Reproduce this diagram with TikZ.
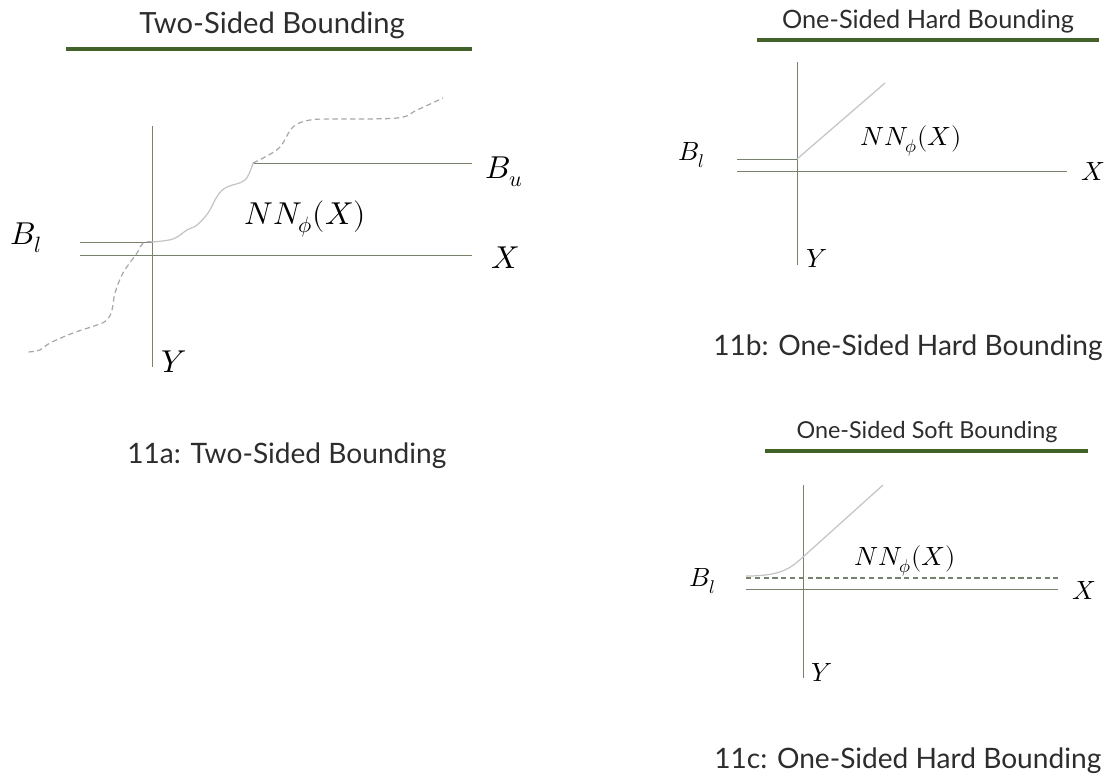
\documentclass[tikz,border=0pt]{standalone}
\usepackage{fontspec}
\usepackage{unicode-math}
\setmainfont{Lato}
\setmathfont{Latin Modern Math}
\usetikzlibrary{positioning}
\definecolor{rulegreen}{RGB}{66,98,42}
\definecolor{axisgrey}{RGB}{118,130,108}
\definecolor{curvegrey}{RGB}{196,196,196}
\definecolor{dashgrey}{RGB}{168,168,168}
\definecolor{textgrey}{RGB}{45,45,45}
\tikzset{
  heading/.style={anchor=base, inner sep=0pt, text=textgrey},
  caption/.style={anchor=base west, inner sep=0pt, text=textgrey, font=\fontsize{16}{19}\selectfont},
  headrule/.style={rulegreen, line width=1.8pt},
  axisline/.style={axisgrey, line width=0.5pt},
  netcurve/.style={curvegrey, line width=0.7pt},
  netdash/.style={dashgrey, line width=0.7pt, dash pattern=on 3pt off 2pt},
  bounddash/.style={axisgrey, line width=0.7pt, dash pattern=on 3pt off 2pt},
  biglabel/.style={inner sep=0pt, font=\fontsize{18}{20}\selectfont},
  smalllabel/.style={inner sep=0pt, font=\fontsize{15}{17}\selectfont}
}

\begin{document}
\begin{tikzpicture}[x=0.02cm, y=-0.02cm]
  \useasboundingbox (0,0) rectangle (1108,779);

  % 11a: two-sided
  \node[heading, font=\fontsize{16.6}{19}\selectfont] (titleA) at (272,33) {Two-Sided Bounding};
  \draw[headrule] (66,49) -- (472,49);
  \draw[axisline] (152,126) -- (152,367);
  \draw[axisline] (80,255) -- (472,255);
  \draw[axisline] (80,242) -- (152,242);
  \draw[axisline] (254,163) -- (472,163);
  \draw[netcurve] plot[smooth, tension=0.6] coordinates {(152,242) (173,239) (187,230) (197,225) (208,213) (218,195) (227,187) (245,180) (253,163)};
  \draw[netdash] plot[smooth, tension=0.6] coordinates {(253,163) (265,157) (280,147) (293,127) (310,120) (333,119) (397,118) (417,110) (443,98)};
  \draw[netdash] plot[smooth, tension=0.6] coordinates {(152,242) (143,243) (137,253) (123,273) (115,293) (112,310) (107,320) (97,325) (73,333) (50,343) (40,350) (28,352)};
  \node[biglabel] (lowA) at (26,238) {$B_l$};
  \node[biglabel] (upA) at (504,172) {$B_u$};
  \node[biglabel] (netA) at (305,219) {$NN_\phi(X)$};
  \node[biglabel] (xA) at (505,258) {$X$};
  \node[biglabel] (yA) at (174,362) {$Y$};
  \node[caption] (capA) at (127,463) {11a: Two-Sided Bounding};

  % 11b: one-sided hard
  \node[heading, font=\fontsize{14.4}{17}\selectfont] (titleB) at (928,28) {One-Sided Hard Bounding};
  \draw[headrule] (757,40) -- (1099,40);
  \draw[axisline] (797,62) -- (797,265);
  \draw[axisline] (737,171) -- (1067,171);
  \draw[axisline] (737,159) -- (797,159);
  \draw[netcurve] (797,159) -- (885,83);
  \node[smalllabel] (lowB) at (692,155) {$B_l$};
  \node[smalllabel] (netB) at (911,141) {$NN_\phi(X)$};
  \node[smalllabel] (xB) at (1093,171) {$X$};
  \node[smalllabel] (yB) at (817,258) {$Y$};
  \node[caption] (capB) at (713,355) {11b: One-Sided Hard Bounding};

  % 11c: one-sided soft
  \node[heading, font=\fontsize{13.3}{16}\selectfont] (titleC) at (927,438) {One-Sided Soft Bounding};
  \draw[headrule] (765,451) -- (1088,451);
  \draw[axisline] (803,485) -- (803,678);
  \draw[axisline] (746,589) -- (1058,589);
  \draw[bounddash] (746,578) -- (1058,578);
  \draw[netcurve] (746,576) .. controls (780,576) and (790,569) .. (803,557) -- (883,485);
  \node[smalllabel] (lowC) at (703,581) {$B_l$};
  \node[smalllabel] (netC) at (905,561) {$NN_\phi(X)$};
  \node[smalllabel] (xC) at (1084,590) {$X$};
  \node[smalllabel] (yC) at (822,672) {$Y$};
  \node[caption] (capC) at (714,768) {11c: One-Sided Hard Bounding};
\end{tikzpicture}
\end{document}
